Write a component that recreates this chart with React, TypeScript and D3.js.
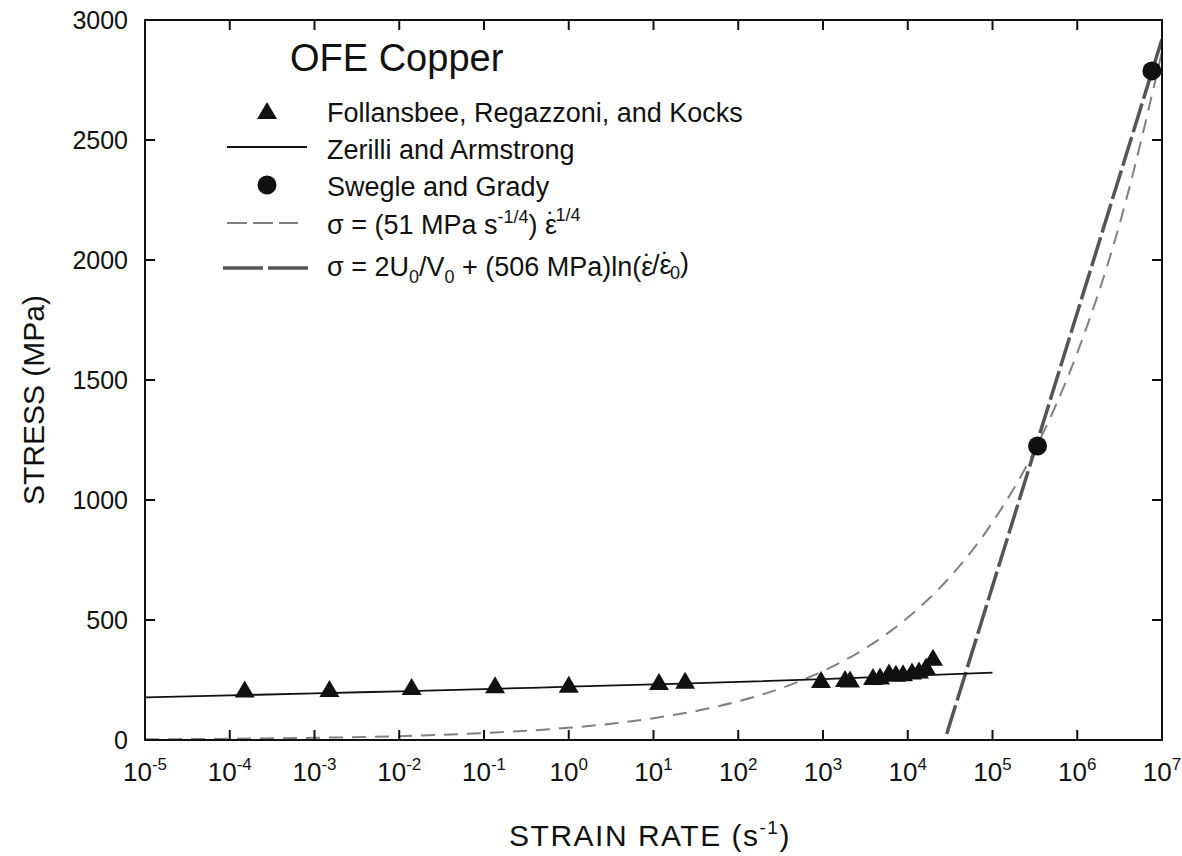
import React from "react";
import * as d3 from "d3";

// ---- data ----
const follansbeeRate = [1.5e-4, 1.5e-3, 1.4e-2, 0.135, 1.0, 11.6, 23.6, 947, 1820, 2084, 3890, 4710, 6010, 7260, 8790, 11220, 13580, 16410, 19860];
const follansbeeStress = [210, 212, 221, 228, 230, 242, 247, 250, 254, 252, 262, 265, 281, 276, 278, 285, 290, 305, 343];

const zerilliLogRate = [-5, -4, -3, -2, -1, 0, 1, 2, 3, 4, 5];
const zerilliStress = [178, 186, 194, 203, 212, 222, 232, 242, 254, 267, 281];

const swegleRate = [3.4e5, 7.6e6];
const swegleStress = [1225, 2788];

const powerLogRate = [-5, -4, -3, -2, -1, 0, 0.5, 1, 1.5, 2, 2.5, 3, 3.5, 4, 4.5, 5, 5.5, 6, 6.5, 7];
const powerStress = [3, 5, 9, 16, 29, 51, 68, 91, 121, 161, 215, 287, 382, 510, 680, 907, 1209, 1613, 2150, 2868];

const logLawLogRate = [4.46, 7];
const logLawStress = [25, 2920];

const xTickExponents = [-5, -4, -3, -2, -1, 0, 1, 2, 3, 4, 5, 6, 7];
const yTicks = [0, 500, 1000, 1500, 2000, 2500, 3000];

const FONT = "'Liberation Sans', Arial, Helvetica, sans-serif";

export default function App() {
  const W = 1182, H = 856;
  const left = 145, right = 1162, top = 20, bottom = 740;
  const x = d3.scaleLog().domain([1e-5, 1e7]).range([left, right]);
  const y = d3.scaleLinear().domain([0, 3000]).range([bottom, top]);

  const lineLog = d3
    .line<[number, number]>()
    .x((d) => x(Math.pow(10, d[0])))
    .y((d) => y(d[1]));
  const smoothLog = d3
    .line<[number, number]>()
    .x((d) => x(Math.pow(10, d[0])))
    .y((d) => y(d[1]))
    .curve(d3.curveMonotoneX);

  const zerilliPath = smoothLog(zerilliLogRate.map((r, i) => [r, zerilliStress[i]]));
  const powerPath = smoothLog(powerLogRate.map((r, i) => [r, powerStress[i]]));
  const logLawPath = lineLog(logLawLogRate.map((r, i) => [r, logLawStress[i]]));

  const tri = (cx: number, cy: number, s = 1) =>
    `M${cx},${cy - 9 * s}L${cx + 10 * s},${cy + 8 * s}L${cx - 10 * s},${cy + 8 * s}Z`;

  const tickLen = 10;
  const legX = 227;
  const legTextX = 327;

  // epsilon with a dot above, as tspans
  const epsDot = (key: string) => [
    <tspan key={key + "e"}>ε</tspan>,
    <tspan key={key + "d"} dx={-10.5} dy={-2}>˙</tspan>,
    <tspan key={key + "r"} dx={-1} dy={2}>{""}</tspan>,
  ];

  return (
    <svg
      width={W}
      height={H}
      style={{ position: "absolute", left: 0, top: 0, background: "#fff" }}
      fontFamily={FONT}
    >
      <rect x={0} y={0} width={W} height={H} fill="#fff" />
      <defs>
        <clipPath id="plot">
          <rect x={left} y={top} width={right - left} height={bottom - top} />
        </clipPath>
      </defs>

      {/* curves */}
      <g clipPath="url(#plot)">
        <path d={powerPath || ""} fill="none" stroke="#808080" strokeWidth={2} strokeDasharray="14 9" />
        <path d={logLawPath || ""} fill="none" stroke="#555" strokeWidth={3.5} strokeDasharray="30 5" />
        <path d={zerilliPath || ""} fill="none" stroke="#111" strokeWidth={1.8} />
      </g>

      {/* markers */}
      {follansbeeRate.map((r, i) => (
        <path key={"t" + i} d={tri(x(r), y(follansbeeStress[i]))} fill="#111" />
      ))}
      {swegleRate.map((r, i) => (
        <circle key={"c" + i} cx={x(r)} cy={y(swegleStress[i])} r={9.5} fill="#111" />
      ))}

      {/* frame */}
      <rect x={left} y={top} width={right - left} height={bottom - top} fill="none" stroke="#111" strokeWidth={2} />

      {/* x ticks */}
      {xTickExponents.map((e) => {
        const xx = x(Math.pow(10, e));
        return (
          <g key={"x" + e}>
            <line x1={xx} x2={xx} y1={bottom} y2={bottom - tickLen} stroke="#111" strokeWidth={2} />
            <line x1={xx} x2={xx} y1={top} y2={top + tickLen} stroke="#111" strokeWidth={2} />
            <text x={xx} y={781} textAnchor="middle" fontSize={26} fill="#111">
              10
              <tspan dy={-11} fontSize={17}>
                {e}
              </tspan>
            </text>
          </g>
        );
      })}

      {/* y ticks */}
      {yTicks.map((v) => {
        const yy = y(v);
        return (
          <g key={"y" + v}>
            <line x1={left} x2={left + tickLen} y1={yy} y2={yy} stroke="#111" strokeWidth={2} />
            <line x1={right} x2={right - tickLen} y1={yy} y2={yy} stroke="#111" strokeWidth={2} />
            <text x={128} y={yy} dy="0.35em" textAnchor="end" fontSize={25} fill="#111">
              {v}
            </text>
          </g>
        );
      })}

      {/* axis titles */}
      <text x={650} y={846} textAnchor="middle" fontSize={30} letterSpacing={1.5} fill="#111">
        STRAIN RATE (s
        <tspan dy={-12} fontSize={19}>-1</tspan>
        <tspan dy={12}>)</tspan>
      </text>
      <text
        transform="translate(44,400) rotate(-90)"
        textAnchor="middle"
        fontSize={30}
        fill="#111"
      >
        STRESS (MPa)
      </text>

      {/* legend */}
      <text x={290} y={71} fontSize={38} fill="#111">
        OFE Copper
      </text>

      <path d={tri(267, 111)} fill="#111" />
      <text x={legTextX} y={122} fontSize={27} fill="#111">
        Follansbee, Regazzoni, and Kocks
      </text>

      <line x1={legX} x2={307} y1={147} y2={147} stroke="#111" strokeWidth={1.8} />
      <text x={legTextX} y={159} fontSize={27} fill="#111">
        Zerilli and Armstrong
      </text>

      <circle cx={267} cy={185} r={9.5} fill="#111" />
      <text x={legTextX} y={196} fontSize={27} fill="#111">
        Swegle and Grady
      </text>

      <line x1={legX} x2={298} y1={223} y2={223} stroke="#808080" strokeWidth={2} strokeDasharray="20 6" />
      <text x={legTextX} y={234} fontSize={27} fill="#111">
        σ = (51 MPa s
        <tspan dy={-11} fontSize={18}>-1/4</tspan>
        <tspan dy={11}>) </tspan>
        {epsDot("a")}
        <tspan dy={-11} fontSize={18}>1/4</tspan>
      </text>

      <line x1={223} x2={312} y1={268} y2={268} stroke="#555" strokeWidth={3.5} strokeDasharray="40 5" />
      <text x={legTextX} y={276} fontSize={27} fill="#111">
        σ = 2U
        <tspan dy={7} fontSize={18}>0</tspan>
        <tspan dy={-7}>/V</tspan>
        <tspan dy={7} fontSize={18}>0</tspan>
        <tspan dy={-7}> + (506 MPa)ln(</tspan>
        {epsDot("b")}
        <tspan>/</tspan>
        {epsDot("c")}
        <tspan dy={7} fontSize={18}>0</tspan>
        <tspan dy={-7}>)</tspan>
      </text>
    </svg>
  );
}
